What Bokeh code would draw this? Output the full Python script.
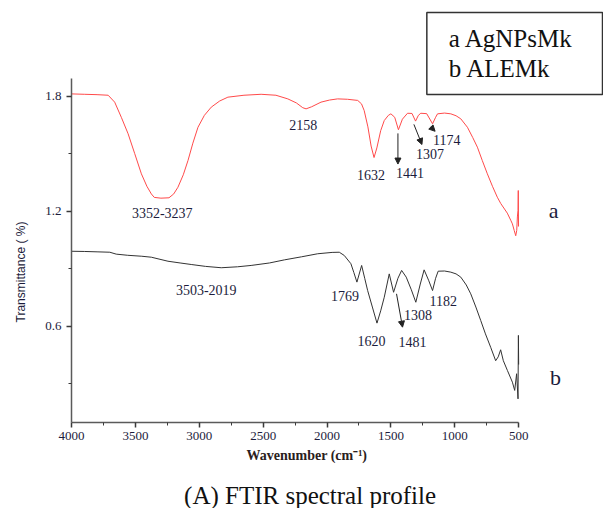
from bokeh.plotting import figure
from bokeh.layouts import column
from bokeh.models import Range1d, Label, Arrow, NormalHead, FixedTicker, BoxAnnotation, Title
from bokeh.embed import file_html
from bokeh.resources import INLINE

# ---- data ----
wn_a = [4000, 3900, 3800, 3713, 3662, 3610, 3557, 3505, 3453, 3410, 3375, 3352, 3300, 3237,
        3200, 3167, 3125, 3088, 3050, 3010, 2960, 2906, 2840, 2776, 2650, 2516, 2400, 2307,
        2240, 2190, 2164, 2120, 2047, 1980, 1917, 1840, 1760, 1730, 1709, 1680, 1655, 1632,
        1610, 1580, 1552, 1520, 1500, 1470, 1441, 1410, 1370, 1335, 1307, 1285, 1266, 1220,
        1174, 1150, 1135, 1080, 1031, 990, 953, 901, 860, 823, 785, 745, 705, 667, 640, 589,
        560, 549, 535, 523, 515, 510, 505, 503, 501]
t_a = [1.812, 1.810, 1.808, 1.805, 1.769, 1.690, 1.604, 1.500, 1.395, 1.330, 1.290, 1.272, 1.268,
       1.270, 1.290, 1.325, 1.390, 1.465, 1.555, 1.638, 1.700, 1.743, 1.775, 1.795, 1.805, 1.810,
       1.805, 1.786, 1.765, 1.740, 1.734, 1.745, 1.769, 1.780, 1.786, 1.784, 1.778, 1.760, 1.725,
       1.640, 1.540, 1.480, 1.530, 1.620, 1.673, 1.700, 1.708, 1.690, 1.625, 1.680, 1.711, 1.710,
       1.670, 1.700, 1.711, 1.709, 1.656, 1.690, 1.708, 1.712, 1.708, 1.698, 1.682, 1.638, 1.585,
       1.534, 1.465, 1.395, 1.330, 1.273, 1.240, 1.190, 1.150, 1.134, 1.100, 1.072, 1.100, 1.170,
       1.204, 1.308, 1.120]

wn_b = [4000, 3900, 3800, 3700, 3650, 3560, 3450, 3375, 3245, 3150, 3063, 2950, 2828, 2700,
        2594, 2450, 2334, 2200, 2073, 1960, 1904, 1865, 1813, 1790, 1766, 1729, 1705, 1682,
        1645, 1609, 1580, 1552, 1513, 1479, 1445, 1416, 1380, 1340, 1305, 1270, 1240, 1205,
        1174, 1150, 1130, 1080, 1031, 990, 953, 910, 875, 835, 797, 760, 719, 680, 660, 641,
        620, 588, 549, 531, 516, 505, 502, 500]
t_b = [0.991, 0.990, 0.988, 0.986, 0.976, 0.970, 0.965, 0.960, 0.939, 0.930, 0.922, 0.912, 0.905,
       0.910, 0.917, 0.930, 0.946, 0.962, 0.978, 0.985, 0.986, 0.969, 0.926, 0.880, 0.830, 0.917,
       0.850, 0.786, 0.700, 0.616, 0.680, 0.751, 0.873, 0.777, 0.850, 0.891, 0.856, 0.790, 0.725,
       0.820, 0.894, 0.840, 0.786, 0.850, 0.887, 0.888, 0.882, 0.873, 0.856, 0.815, 0.769, 0.700,
       0.630, 0.560, 0.490, 0.420, 0.440, 0.477, 0.420, 0.369, 0.308, 0.265, 0.352, 0.221, 0.552,
       0.400]

x_ticks = [4000, 3500, 3000, 2500, 2000, 1500, 1000, 500]
x_minor = [3750, 3250, 2750, 2250, 1750, 1250, 750]
y_ticks = [0.6, 1.2, 1.8]
y_minor = [0.3, 0.9, 1.5]

series_names = ["a AgNPsMk", "b ALEMk"]

# peak annotations
peak_a_text = ["3352-3237", "2158", "1632", "1441", "1307", "1174"]
peak_a_x = [3290, 2187, 1656, 1350, 1193, 1062]
peak_a_y = [1.193, 1.652, 1.391, 1.397, 1.497, 1.569]
peak_b_text = ["3503-2019", "1769", "1620", "1481", "1308", "1182"]
peak_b_x = [2945, 1859, 1651, 1331, 1287, 1091]
peak_b_y = [0.791, 0.760, 0.525, 0.516, 0.656, 0.734]

# arrows: (x_start, y_start, x_end, y_end)
arrows = [(1445, 1.606, 1445, 1.446),
          (1320, 1.653, 1257, 1.548),
          (1188, 1.640, 1154, 1.617),
          (1456, 0.769, 1409, 0.595)]

SERIF = "Liberation Serif"
TXT = "#1c1c3c"

p = figure(width=603, height=470, output_backend="svg", toolbar_location=None,
           x_range=Range1d(4000, -164.0625), y_range=Range1d(0.0976, 2.2993),
           min_border_left=70, min_border_right=0, min_border_top=0, min_border_bottom=48)
p.outline_line_color = None
p.xgrid.visible = False
p.ygrid.visible = False
p.border_fill_color = "white"

p.line(wn_a, t_a, line_color="#ff4a4a", line_width=1)
p.line(wn_b, t_b, line_color="#333333", line_width=1)

for ax in (p.xaxis[0], p.yaxis[0]):
    ax.axis_line_color = "#5a5a5a"
    ax.axis_line_width = 1.5
    ax.major_tick_line_color = "#3a3a3a"
    ax.minor_tick_line_color = "#3a3a3a"
    ax.major_tick_line_width = 1.5
    ax.major_tick_in = 0
    ax.major_tick_out = 5
    ax.minor_tick_in = 0
    ax.minor_tick_out = 3
    ax.major_label_text_font = SERIF
    ax.major_label_text_font_size = "13px"
    ax.major_label_text_color = TXT

p.xaxis.ticker = FixedTicker(ticks=x_ticks, minor_ticks=x_minor)
p.yaxis.ticker = FixedTicker(ticks=y_ticks, minor_ticks=y_minor)
p.xaxis.bounds = (500, 4000)
p.yaxis.bounds = (0.0976, 1.892)
p.xaxis.major_label_standoff = 4
p.yaxis.major_label_standoff = 5

# axis titles (side-panel titles so they can be offset like the reference)
p.add_layout(Title(text="Wavenumber (cm⁻¹)", text_font=SERIF, text_font_style="bold",
                   text_font_size="14px", text_color="#2a2020", align="left",
                   offset=175, standoff=6), "below")
p.add_layout(Title(text="Transmittance ( %)", text_font="Liberation Sans",
                   text_font_style="normal", text_font_size="12px", text_color="#1a1a3a",
                   align="left", vertical_align="top", offset=100, standoff=26), "left")

for txt, x, y in zip(peak_a_text + peak_b_text, peak_a_x + peak_b_x, peak_a_y + peak_b_y):
    p.add_layout(Label(x=x, y=y, text=txt, text_font=SERIF, text_font_size="14px",
                       text_color=TXT, text_align="center", text_baseline="middle"))

for x0, y0, x1, y1 in arrows:
    p.add_layout(Arrow(x_start=x0, y_start=y0, x_end=x1, y_end=y1, line_color="#222222",
                       line_width=1,
                       end=NormalHead(size=6, fill_color="#222222", line_color="#222222")))

# series letters
p.add_layout(Label(x=226.6, y=1.2037, text="a", text_font=SERIF, text_font_size="22px",
                   text_color=TXT, text_align="center", text_baseline="middle"))
p.add_layout(Label(x=210.9, y=0.3324, text="b", text_font=SERIF, text_font_size="22px",
                   text_color=TXT, text_align="center", text_baseline="middle"))

# legend box
p.add_layout(BoxAnnotation(left=1218.75, right=-156.25, top=2.2367, bottom=1.8089,
                           fill_alpha=0, line_color="#333333", line_alpha=1.0,
                           line_width=1.5))
p.add_layout(Label(x=1046.9, y=2.101, text=series_names[0], text_font=SERIF,
                   text_font_size="25px", text_color="#111111", text_align="left",
                   text_baseline="alphabetic"))
p.add_layout(Label(x=1046.9, y=1.942, text=series_names[1], text_font=SERIF,
                   text_font_size="25px", text_color="#111111", text_align="left",
                   text_baseline="alphabetic"))

# caption strip below the chart (its frame is aligned with the chart frame: 70..603 px)
cap = figure(width=603, height=38, output_backend="svg", toolbar_location=None,
             x_range=Range1d(70, 603), y_range=Range1d(38, 0),
             x_axis_type=None, y_axis_type=None,
             min_border_left=0, min_border_right=0, min_border_top=0, min_border_bottom=0)
cap.outline_line_color = None
cap.xgrid.visible = False
cap.ygrid.visible = False
cap.add_layout(Label(x=309, y=25, text="(A) FTIR spectral profile", text_font=SERIF,
                     text_font_size="25px", text_color="#111111", text_align="center",
                     text_baseline="middle"))

layout = column(p, cap, spacing=0)
open("out.html", "w").write(file_html(layout, INLINE))
